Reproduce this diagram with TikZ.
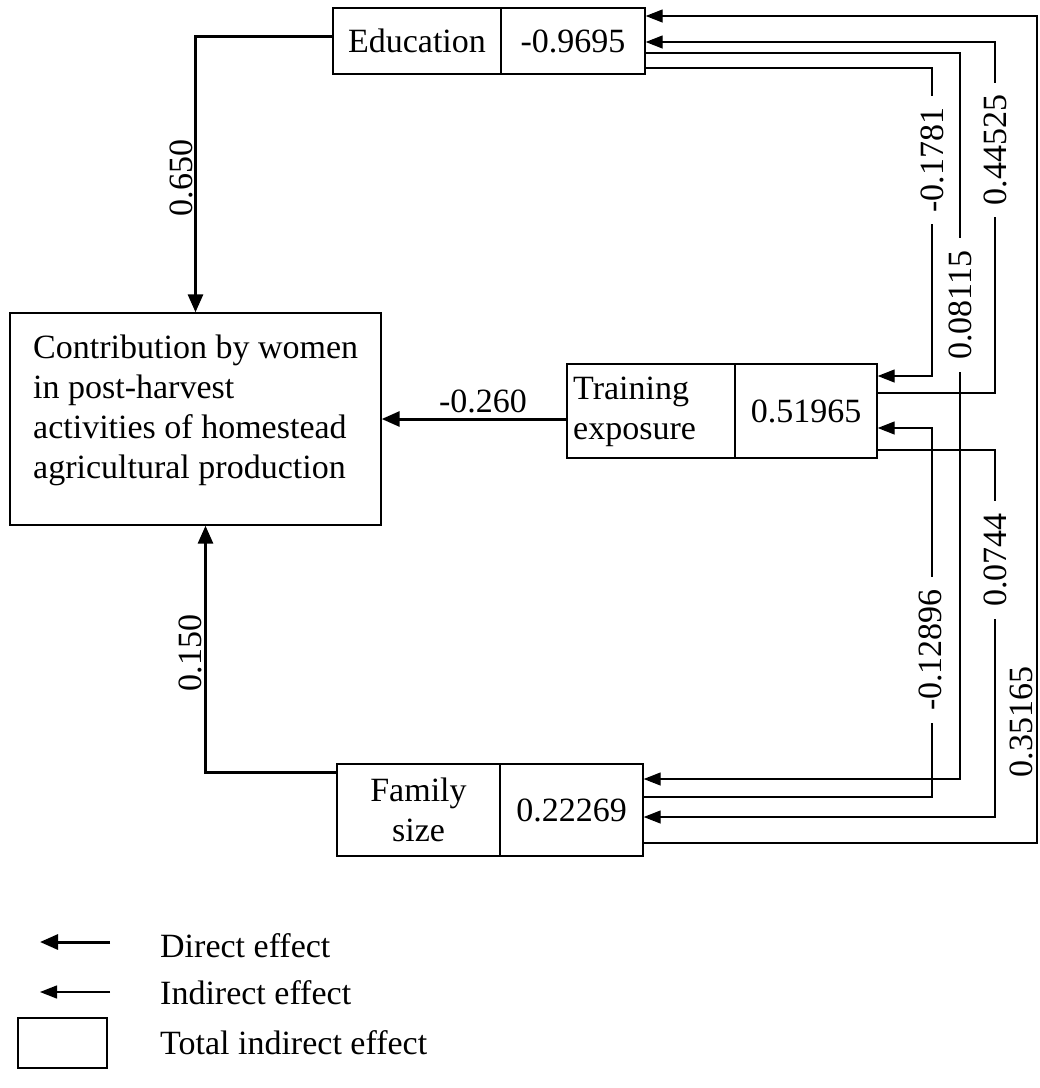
\documentclass[tikz,border=0pt]{standalone}
\usepackage{fontspec}
\setmainfont{Liberation Serif}
\usetikzlibrary{arrows.meta}
\begin{document}
\begin{tikzpicture}[x=1pt,y=-1pt,
  txt/.style={font=\fontsize{34}{40}\selectfont, inner sep=0pt},
  cell/.style={draw, line width=1.4pt, font=\fontsize{34}{40}\selectfont, inner sep=0pt, align=center},
  direct/.style={line width=3pt, -{Triangle[length=18pt,width=15pt]}},
  indirect/.style={line width=1.3pt, -{Triangle[length=17pt,width=13pt]}},
  lab/.style={font=\fontsize{34}{40}\selectfont, rotate=90, fill=white, inner xsep=12pt, inner ysep=1pt}
]
\useasboundingbox (0,0) rectangle (1040,1088);

% main box
\node[draw, line width=1.4pt, minimum width=371pt, minimum height=212pt, inner sep=0pt] (main) at (195.5,419) {};
\node[txt, anchor=west, align=left] (maintext) at (33,410) {Contribution by women\\in post-harvest\\activities of homestead\\agricultural production};

% education
\node[cell, minimum width=168pt, minimum height=66pt] (eduL) at (417,41) {Education};
\node[cell, minimum width=144pt, minimum height=66pt] (eduR) at (573,41) {-0.9695};

% training
\node[cell, minimum width=168pt, minimum height=94pt] (trL) at (651,411) {};
\node[txt, anchor=west, align=left] (trtext) at (573,412) {Training\\exposure};
\node[cell, minimum width=142pt, minimum height=94pt] (trR) at (806,411) {0.51965};

% family
\node[cell, minimum width=163pt, minimum height=92pt] (faL) at (418.5,810) {Family\\size};
\node[cell, minimum width=143pt, minimum height=92pt] (faR) at (571.5,810) {0.22269};

% direct effects
\draw[direct] ([yshift=5pt]eduL.west) -| (main.north);
\draw[direct] ([yshift=38pt]faL.west) -| ([xshift=10pt]main.south);
\draw[direct] ([yshift=-8pt]trL.west) -- (main.east);
\node[lab, fill=none, inner xsep=0pt] (d1) at (181,178) {0.650};
\node[lab, fill=none, inner xsep=0pt] (d2) at (190,653) {0.150};
\node[txt] (d3) at (483,401) {-0.260};

% vertical tracks
\coordinate (xa) at (932,0);
\coordinate (xb) at (960,0);
\coordinate (xc) at (995,0);
\coordinate (xd) at (1037,0);

% end points
\coordinate (e16) at ([yshift=25pt]eduR.east);
\coordinate (e42) at ([yshift=-1pt]eduR.east);
\coordinate (e53) at ([yshift=-12pt]eduR.east);
\coordinate (e68) at ([yshift=-27pt]eduR.east);
\coordinate (t376) at ([yshift=35pt]trR.east);
\coordinate (t393) at ([yshift=18pt]trR.east);
\coordinate (t428) at ([yshift=-17pt]trR.east);
\coordinate (t450) at ([yshift=-39pt]trR.east);
\coordinate (f779) at ([yshift=31pt]faR.east);
\coordinate (f797) at ([yshift=13pt]faR.east);
\coordinate (f817) at ([yshift=-7pt]faR.east);
\coordinate (f843) at ([yshift=-33pt]faR.east);

% indirect effects
\draw[indirect] (e68) -- (e68 -| xa) -- (xa |- t376) -- (t376);
\draw[indirect] (t393) -- (t393 -| xc) -- (xc |- e42) -- (e42);
\draw[indirect] (e53) -- (e53 -| xb) -- (xb |- f779) -- (f779);
\draw[indirect] (f797) -- (f797 -| xa) -- (xa |- t428) -- (t428);
\draw[indirect] (t450) -- (t450 -| xc) -- (xc |- f817) -- (f817);
\draw[indirect] (f843) -- (f843 -| xd) -- (xd |- e16) -- (e16);

\node[lab] (i1) at (932,160) {-0.1781};
\node[lab] (i2) at (995,150) {0.44525};
\node[lab] (i3) at (960,305) {0.08115};
\node[lab] (i4) at (930,650) {-0.12896};
\node[lab] (i5) at (995,560) {0.0744};
\node[lab, inner ysep=0pt] (i6) at (1021,722) {0.35165};

% legend
\coordinate (la1) at (110,942);
\coordinate (lb1) at (40,942);
\draw[direct] (la1) -- (lb1);
\node[txt, anchor=west] (lt1) at (160,946) {Direct effect};
\coordinate (la2) at (110,992);
\coordinate (lb2) at (40,992);
\draw[indirect] (la2) -- (lb2);
\node[txt, anchor=west] (lt2) at (160,993) {Indirect effect};
\node[draw, line width=1.4pt, minimum width=89pt, minimum height=50pt, inner sep=0pt] (lbox) at (62.5,1043) {};
\node[txt, anchor=west] (lt3) at (160,1043) {Total indirect effect};
\end{tikzpicture}
\end{document}
